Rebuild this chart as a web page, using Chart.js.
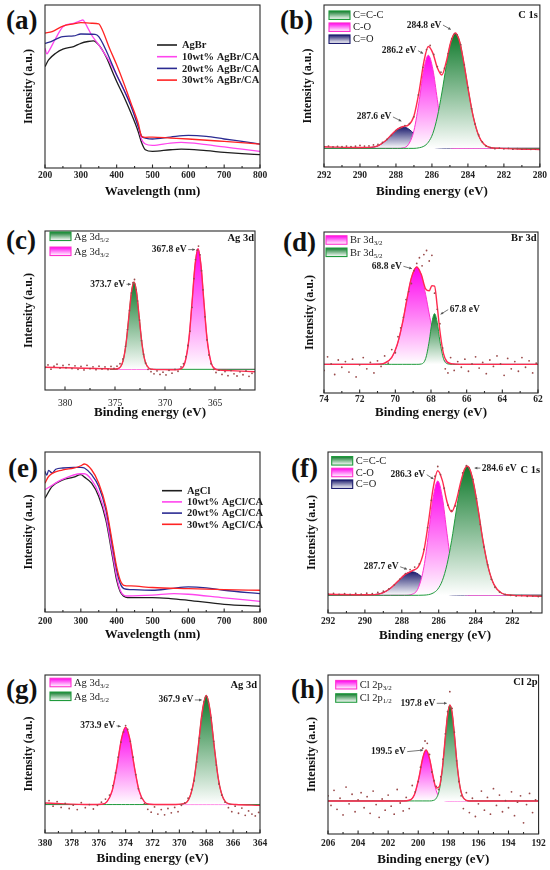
<!DOCTYPE html>
<html lang="en">
<head>
<meta charset="UTF-8">
<title>AgBr/CA and AgCl/CA: UV-vis and XPS</title>
<script src="https://cdn.jsdelivr.net/npm/chart.js"></script>
<style>
  body { margin: 0; background: #fff; }
  #page { position: relative; width: 550px; height: 870px; overflow: hidden; background: #fff; }
  #page canvas { position: absolute; }
  .tag { position: absolute; font: bold 27px 'Liberation Serif', serif; color: #111; line-height: 1; }
</style>
</head>
<body>
<div id="page">
  <div class="tag" style="left:6px;top:7px">(a)</div>
  <div class="tag" style="left:280px;top:7px">(b)</div>
  <div class="tag" style="left:6px;top:227px">(c)</div>
  <div class="tag" style="left:283px;top:229px">(d)</div>
  <div class="tag" style="left:8px;top:455px">(e)</div>
  <div class="tag" style="left:291px;top:455px">(f)</div>
  <div class="tag" style="left:6px;top:676px">(g)</div>
  <div class="tag" style="left:291px;top:676px">(h)</div>
</div>
<script>
const SERIF = "'Liberation Serif', 'Times New Roman', serif";

// ---------- (a) UV-vis, AgBr series ----------
const aNames = ['AgBr', '10wt% AgBr/CA', '20wt% AgBr/CA', '30wt% AgBr/CA'];
const aWl0 = [200,210,230,250,280,300,320,335,350,370,390,400,420,440,460,470,480,500,550,580,650,700,750,800];
const aInt0 = [62.2,66.3,70.4,72.9,74.5,76.5,77.6,78.0,75.5,68.4,58.2,53.1,43.9,33.7,22.4,15.3,11.2,10.2,11.2,11.6,10.6,9.6,8.8,8.2];
const aWl1 = [200,205,210,230,250,280,300,305,320,330,350,380,400,420,440,460,470,480,500,550,580,650,700,750,800];
const aInt1 = [73.5,70.0,71.4,79.6,86.7,88.8,90.4,90.8,85.7,81.6,75.5,65.3,57.1,48.0,38.8,25.5,17.3,14.7,13.9,15.3,15.7,14.3,12.9,11.6,10.2];
const aWl2 = [200,210,250,280,300,340,350,370,390,400,420,440,460,470,480,500,550,600,650,700,750,800];
const aInt2 = [76.5,77.0,80.6,81.0,82.2,82.0,80.6,72.4,62.2,57.1,48.0,37.8,25.5,19.4,18.4,17.8,19.0,20.0,19.4,17.8,16.3,14.7];
const aWl3 = [200,220,250,280,300,330,350,360,380,400,420,440,460,470,480,500,550,600,700,800];
const aInt3 = [82.7,83.7,87.1,88.4,89.2,88.8,88.4,84.7,73.5,63.3,52.0,39.8,27.6,19.4,18.8,19.0,18.4,17.8,16.3,14.7];

// ---------- (e) UV-vis, AgCl series ----------
const eNames = ['AgCl', '10wt% AgCl/CA', '20wt% AgCl/CA', '30wt% AgCl/CA'];
const eWl0 = [200,220,250,280,300,310,330,350,370,390,400,410,420,430,500,550,600,700,800];
const eInt0 = [71.1,78.5,82.6,84.3,85.8,84.3,80.5,72.2,57.5,32.4,19.9,12.6,9.8,9.0,9.0,8.4,7.3,4.8,3.6];
const eWl1 = [200,250,300,310,330,350,370,390,400,410,420,430,500,560,600,700,800];
const eInt1 = [76.4,83.0,86.4,86.4,82.6,74.3,59.6,34.5,22.0,13.6,10.5,10.0,10.5,11.5,11.1,8.8,6.7];
const eWl2 = [200,205,210,220,230,250,280,300,310,330,350,370,390,400,410,420,440,500,550,600,650,700,800];
const eInt2 = [87.9,85.5,88.5,86.8,89.2,90.0,90.4,90.4,90.0,85.8,78.5,63.8,38.7,26.2,17.8,14.6,14.0,13.6,14.6,15.7,15.1,13.6,11.5];
const eWl3 = [200,210,250,280,300,310,330,350,370,390,400,410,420,440,500,600,700,800];
const eInt3 = [80.5,84.7,88.9,89.9,91.4,92.5,88.9,80.5,65.9,40.8,28.2,19.9,16.7,16.3,15.3,14.6,14.0,13.6];

const uvTicks = [200, 300, 400, 500, 600, 700, 800];

// ---------- (b) C 1s, AgBr/CA ----------
const bBase = 11.5;
const bE = [292,290,289.5,289,288.6,288.2,287.9,287.6,287.3,287.0,286.7,286.45,286.2,285.95,285.7,285.45,285.2,284.95,284.7,284.45,284.2,283.95,283.7,283.4,283.1,282.7,282.2,281,280];
const bCCC = [11.5,11.5,11.5,11.5,11.5,11.5,11.5,11.5,11.5,11.5,11.9,12.8,15.3,20.7,30.9,45.7,62.6,77.0,82.5,77.0,62.6,45.7,30.9,19.3,14.0,11.9,11.5,11.5,11.5];
const bCO = [11.5,11.5,11.5,11.5,11.5,11.5,11.5,11.8,14.0,22.5,41.6,60.4,69.0,60.4,41.6,22.5,14.0,11.8,11.5,11.5,11.5,11.5,11.5,11.5,11.5,11.5,11.5,11.5,11.5];
const bCdO = [11.5,11.5,11.8,13.1,16.0,20.5,23.5,24.7,23.5,20.5,17.0,14.7,13.1,12.2,11.8,11.6,11.5,11.5,11.5,11.5,11.5,11.5,11.5,11.5,11.5,11.5,11.5,11.5,11.5];
const bFit = [12.5,12.0,12.1,13.1,16.0,20.5,23.5,25.0,26.0,31.5,47.5,64.9,74.4,70.3,61.3,56.8,65.1,77.3,82.7,77.0,62.6,45.7,30.9,19.3,14.0,11.9,11.5,11.0,10.8];
const bDots = [[292,12.6],[291.75,12.9],[291.5,12.4],[291.25,12.7],[291,12.5],[290.75,12.9],[290.5,12.6],[290.25,12.8],[290,13.3],[289.75,12.9],[289.5,13.0],[289.25,13.6],[289,14.0],[288.75,15.2],[288.5,17.0],[288.25,19.5],[288,22.4],[287.75,24.3],[287.5,25.6],[287.25,26.8],[287,31.0],[286.75,44.5],[286.5,61.5],[286.3,72.5],[286.1,75.0],[285.9,69.5],[285.7,62.0],[285.5,58.5],[285.3,61.0],[285.1,70.0],[284.9,79.0],[284.75,82.0],[284.6,81.5],[284.4,75.5],[284.2,63.0],[284,49.0],[283.8,36.0],[283.6,26.5],[283.4,19.8],[283.2,15.5],[283,13.0],[282.75,12.0],[282.5,11.3],[282.25,11.6],[282,11.2],[281.75,11.5],[281.5,11.0],[281.25,11.3],[281,11.0],[280.75,11.2],[280.5,10.9],[280.25,11.1],[280,10.9]];
const bTicks = [292, 290, 288, 286, 284, 282, 280];
const bNotes = [['287.6 eV', 288.25, 30.9, 287.7, 28.3], ['286.2 eV', 286.86, 71.8, 286.49, 70.1], ['284.8 eV', 285.47, 87.6, 284.95, 84.9]];

// ---------- (c) Ag 3d, AgBr/CA ----------
const cBase = 13;
const cE = [375.5,375,374.6,374.2,373.9,373.6,373.35,373.1,372.85,372.6,372.3,372.0,371.6,371.2,370,369,368.4,368.0,367.6,367.3,367.0,366.7,366.4,366.1,365.8,365.4,365.0,364.6,363.5,361];
const cAg52 = [13,13,13.7,18.3,29,47,61.8,68,61.8,47,29,18.3,13.7,13,13,13,13,13,13,13,13,13,13,13,13,13,13,13,13,13];
const cAg32 = [13,13,13,13,13,13,13,13,13,13,13,13,13,13,13,13,13.6,17.7,32.8,55,78.5,89,78.5,55,32.8,17.7,13.6,13,13,13];
const cFitE = [382,376,375.5,375,374.6,374.2,373.9,373.6,373.35,373.1,372.85,372.6,372.3,372.0,371.6,371.2,370,369,368.4,368.0,367.6,367.3,367.0,366.7,366.4,366.1,365.8,365.4,365.0,364.6,363.5,361];
const cFit = [14.3,13.4,13.3,13.2,13.7,18.3,29,47,61.8,68,61.8,47,29,18.3,13.7,13,12.8,12.7,13.3,17.4,32.5,54.7,78.2,88.7,78.2,54.7,32.5,17.4,13.2,12.5,12.2,11.5];
const cDots = [[382,14.2],[381.7,15.8],[381.4,13.1],[381.1,15.0],[380.8,16.2],[380.5,13.8],[380.2,15.4],[379.9,14.0],[379.6,16.0],[379.3,13.5],[379.0,15.2],[378.7,13.0],[378.4,14.8],[378.1,12.6],[377.8,15.5],[377.5,13.4],[377.2,14.6],[376.9,12.8],[376.6,15.0],[376.3,13.2],[376.0,14.5],[375.7,12.9],[375.4,14.8],[375.1,13.6],[374.8,15.0],[374.5,16.5],[374.2,19.5],[373.95,27.5],[373.75,38.0],[373.55,50.0],[373.35,61.0],[373.2,67.5],[373.05,69.5],[372.9,63.0],[372.75,56.0],[372.55,44.0],[372.35,31.0],[372.15,22.5],[371.95,17.0],[371.7,13.0],[371.4,11.5],[371.1,10.2],[370.8,12.0],[370.5,9.8],[370.2,11.2],[369.9,9.5],[369.6,12.4],[369.3,10.6],[369.0,13.0],[368.7,11.8],[368.4,14.5],[368.15,16.5],[367.9,21.0],[367.7,28.0],[367.5,37.0],[367.3,52.0],[367.1,70.0],[366.95,82.0],[366.8,88.0],[366.65,90.5],[366.5,85.0],[366.35,75.0],[366.2,63.0],[366.0,46.0],[365.8,31.5],[365.6,22.0],[365.4,16.5],[365.15,13.0],[364.9,11.0],[364.6,12.5],[364.3,9.8],[364.0,11.6],[363.7,9.0],[363.4,12.2],[363.1,10.2],[362.8,8.8],[362.5,11.4],[362.2,9.6],[361.9,12.0],[361.6,8.6],[361.3,10.5]];
const cTicks = [380, 375, 370, 365];
const cNotes = [['373.7 eV', 374.0, 66.5, 373.43, 66.5], ['367.8 eV', 367.83, 88.3, 367.0, 88.3]];

// ---------- (d) Br 3d, AgBr/CA ----------
const dBase = 17.8;
const dE = [74,71.5,71,70.6,70.2,69.9,69.6,69.35,69.1,68.8,68.55,68.3,68.1,67.95,67.8,67.65,67.5,67.3,67.1,66.8,66.4,66,62];
const dBr32 = [17.8,17.8,17.9,18.6,22.1,29.8,43.4,58.2,71.5,78.3,73.5,61.1,49.1,40.8,34.9,27.9,24.1,20.8,19.0,18.1,17.8,17.8,17.8];
const dBr52 = [17.8,17.8,17.8,17.8,17.8,17.8,17.8,17.8,17.8,17.8,18.0,21.4,32.2,43.7,49.3,43.7,32.2,21.4,18.2,17.8,17.8,17.8,17.8];
const dFit = [17.8,17.8,17.9,18.6,22.1,29.8,43.4,58.2,71.5,78.3,73.7,64.7,63.5,66.7,66.4,53.8,38.5,24.4,19.4,18.1,17.8,17.8,17.8];
const dDots = [[74,14.0],[73.8,22.5],[73.6,18.0],[73.4,11.5],[73.2,20.5],[73.0,16.0],[72.8,19.5],[72.6,13.0],[72.4,21.0],[72.2,10.0],[72.0,17.5],[71.8,22.0],[71.6,15.0],[71.4,19.0],[71.2,12.5],[71.0,20.0],[70.8,16.5],[70.6,23.0],[70.4,18.5],[70.2,27.0],[70.0,25.0],[69.85,35.0],[69.7,40.5],[69.55,47.0],[69.4,58.0],[69.25,63.0],[69.1,68.0],[68.95,76.0],[68.8,80.5],[68.65,84.0],[68.5,79.0],[68.4,86.0],[68.25,88.5],[68.1,82.0],[67.95,85.5],[67.8,62.0],[67.65,52.0],[67.5,43.0],[67.35,28.0],[67.2,15.0],[67.05,12.5],[66.9,22.0],[66.7,14.0],[66.5,19.5],[66.3,16.0],[66.1,21.0],[65.9,13.5],[65.7,18.0],[65.5,22.5],[65.3,15.5],[65.1,19.0],[64.9,12.0],[64.7,20.5],[64.5,16.5],[64.3,23.0],[64.1,18.0],[63.9,11.0],[63.7,21.5],[63.5,15.0],[63.3,19.5],[63.1,13.5],[62.9,22.0],[62.7,16.0],[62.5,20.0],[62.3,12.5],[62.1,18.5]];
const dTicks = [74, 72, 70, 68, 66, 64, 62];
const dNotes = [['68.8 eV', 69.63, 78.7, 69.07, 77.2], ['67.8 eV', 66.95, 51.8, 67.46, 48.9]];

// ---------- (f) C 1s, AgCl/CA ----------
const fBase = 11;
const fE = [292,290,289.5,289,288.6,288.2,287.85,287.45,287.1,286.8,286.55,286.3,286.05,285.8,285.55,285.3,285.05,284.8,284.6,284.45,284.3,284.1,283.85,283.6,283.3,283.0,282.6,282.1,281,280.4];
const fCCC = [11,11,11,11,11,11,11,11,11,11.1,11.4,12.4,14.8,20.2,30.1,44.9,63.4,80.1,88.9,91,88.9,80.1,63.4,44.9,27.7,17.6,12.4,11.1,11,11];
const fCO = [11,11,11,11,11,11,11,11.6,15.7,28.7,49.4,71.7,82,71.7,49.4,28.7,17,12.5,11.4,11.2,11,11,11,11,11,11,11,11,11,11];
const fCdO = [11,11,11.4,12.7,15.5,19.9,23.7,25.6,24.1,21.0,18.1,15.5,13.6,12.3,11.6,11.2,11.1,11,11,11,11,11,11,11,11,11,11,11,11,11];
const fFit = [11.6,11.3,11.4,12.7,15.5,19.9,23.7,26.2,28.8,38.8,56.9,77.6,88.4,82.2,69.1,62.8,69.5,81.6,89.3,91.2,88.9,80.1,63.4,44.9,27.7,17.6,12.4,11.1,10.6,10.3];
const fDots = [[292,11.8],[291.7,12.2],[291.4,11.6],[291.1,12.0],[290.8,11.5],[290.5,12.1],[290.2,11.7],[289.9,12.3],[289.6,12.0],[289.3,12.8],[289.0,13.5],[288.7,15.0],[288.4,17.5],[288.1,21.0],[287.8,24.5],[287.55,27.0],[287.3,28.5],[287.05,30.5],[286.8,39.5],[286.6,53.0],[286.4,70.0],[286.2,85.0],[286.05,91.0],[285.9,86.0],[285.7,77.5],[285.5,67.0],[285.3,63.5],[285.1,66.5],[284.9,76.0],[284.7,87.0],[284.5,91.5],[284.35,90.0],[284.15,83.0],[283.95,71.0],[283.75,55.0],[283.55,41.0],[283.35,30.0],[283.15,21.0],[282.95,16.0],[282.7,13.0],[282.4,11.5],[282.1,11.0],[281.8,10.6],[281.5,10.8],[281.2,10.4],[280.9,10.6],[280.6,10.2]];
const fTicks = [292, 290, 288, 286, 284, 282];
const fNotes = [['286.3 eV', 286.73, 85.9, 286.28, 83.2], ['284.6 eV', 283.66, 90.0, 284.05, 90.0], ['287.7 eV', 288.17, 28.7, 287.72, 27.2]];

// ---------- (g) Ag 3d, AgCl/CA ----------
const gBase = 18;
const gE = [380,376.5,375.8,375.4,375.0,374.65,374.3,374.0,373.7,373.35,373.0,372.6,372.2,371.5,370.3,369.6,369.2,368.9,368.6,368.3,368.0,367.7,367.4,367.1,366.8,366.4,365.8,364];
const gAg32 = [18,18,18.2,19.7,26.8,41.9,59.9,67,59.9,41.9,26.8,19.7,18.2,18,18,18,18,18,18,18,18,18,18,18,18,18,18,18];
const gAg52 = [18,18,18,18,18,18,18,18,18,18,18,18,18,18,18,18.7,23.4,34.3,54.4,76.7,87,76.7,54.4,34.3,23.4,18.7,18,18];
const gFit = [19,18,18.2,19.7,26.8,41.9,59.9,67,59.9,41.9,26.8,19.7,18.2,18,18,18.7,23.4,34.3,54.4,76.7,87,76.7,54.4,34.3,23.4,18.7,18,17.5];
const gDots = [[380,18.5],[379.7,20.5],[379.4,17.0],[379.1,19.8],[378.8,16.2],[378.5,18.8],[378.2,15.5],[377.9,17.6],[377.6,14.8],[377.3,19.2],[377.0,16.0],[376.7,18.0],[376.4,15.2],[376.1,17.5],[375.8,19.5],[375.5,21.5],[375.2,24.0],[374.95,30.0],[374.75,38.0],[374.55,48.0],[374.35,57.5],[374.15,64.0],[374.0,68.0],[373.85,65.5],[373.65,58.0],[373.45,48.0],[373.25,37.0],[373.05,28.0],[372.85,22.0],[372.6,18.5],[372.35,15.0],[372.1,13.2],[371.85,16.5],[371.6,12.0],[371.35,14.8],[371.1,11.5],[370.85,15.5],[370.6,12.8],[370.35,16.2],[370.1,13.5],[369.85,17.5],[369.6,19.0],[369.35,22.0],[369.1,27.5],[368.9,33.0],[368.7,45.0],[368.5,60.0],[368.3,74.0],[368.15,83.0],[368.0,86.5],[367.85,83.0],[367.65,73.0],[367.45,58.0],[367.25,43.0],[367.05,31.0],[366.85,24.0],[366.6,19.5],[366.35,16.0],[366.1,13.5],[365.85,17.0],[365.6,12.5],[365.35,15.8],[365.1,11.2],[364.85,14.0],[364.6,12.0],[364.35,10.8],[364.1,13.0]];
const gTicks = [380, 378, 376, 374, 372, 370, 368, 366, 364];
const gNotes = [['373.9 eV', 374.79, 67.8, 374.37, 67.4], ['367.9 eV', 368.96, 84.2, 368.34, 84.2]];

// ---------- (h) Cl 2p, AgCl/CA ----------
const hBase = 20.8;
const hE = [206,201.5,201.0,200.6,200.25,199.95,199.7,199.48,199.25,199.0,198.8,198.6,198.4,198.2,198.05,197.9,197.75,197.6,197.4,197.2,196.95,196.6,196,192];
const hCl32 = [20.8,20.8,20.8,21.2,24.9,35.6,47.8,52.8,47.4,35.3,27.2,23.0,21.4,20.9,20.8,20.8,20.8,20.8,20.8,20.8,20.8,20.8,20.8,20.8];
const hCl12 = [20.8,20.8,20.8,20.8,20.8,20.8,20.8,20.8,20.8,21.1,22.5,27.6,40.4,60.7,74.8,81.1,76.3,62.8,42.2,28.5,22.1,20.8,20.8,20.8];
const hFit = [20.8,20.8,20.8,21.2,24.9,35.6,47.8,52.8,47.4,35.6,28.9,29.8,41.0,60.8,74.8,81.1,76.3,62.8,42.2,28.5,22.1,20.8,20.8,20.8];
const hDots = [[206,24.0],[205.8,18.0],[205.6,27.5],[205.4,15.5],[205.2,22.5],[205.0,12.0],[204.8,29.5],[204.6,19.0],[204.4,25.0],[204.2,14.0],[204.0,21.5],[203.8,26.0],[203.6,16.5],[203.4,23.5],[203.2,13.0],[203.0,27.0],[202.8,18.5],[202.6,10.5],[202.4,22.0],[202.2,15.0],[202.0,24.5],[201.8,17.5],[201.6,12.5],[201.4,28.0],[201.2,19.5],[201.0,14.5],[200.8,23.0],[200.6,16.0],[200.4,30.5],[200.2,26.5],[200.0,33.0],[199.85,42.0],[199.7,54.0],[199.55,58.5],[199.4,57.0],[199.25,50.0],[199.1,39.0],[198.95,33.5],[198.8,30.0],[198.65,28.0],[198.5,36.0],[198.35,47.0],[198.2,63.0],[198.05,77.0],[197.9,89.5],[197.75,79.0],[197.6,64.0],[197.45,46.0],[197.3,33.0],[197.15,24.0],[197.0,16.0],[196.8,26.0],[196.6,13.5],[196.4,22.5],[196.2,11.0],[196.0,19.0],[195.8,27.0],[195.6,15.0],[195.4,23.0],[195.2,12.5],[195.0,28.5],[194.8,18.0],[194.6,24.5],[194.4,14.0],[194.2,21.0],[194.0,16.5],[193.8,26.5],[193.6,11.5],[193.4,20.0],[193.2,24.0],[193.0,7.0],[192.8,18.5],[192.6,25.5],[192.4,13.5],[192.2,21.5]];
const hTicks = [206, 204, 202, 200, 198, 196, 194, 192];
const hNotes = [['199.5 eV', 200.83, 51.8, 199.68, 52.8], ['197.8 eV', 198.87, 82.2, 198.11, 82.2]];

// ---------- colours ----------
const UV_COLORS = ['#1e1e1e', '#ff45ee', '#2b2b92', '#ff2424'];
const GREEN = { line: '#1f9a3c', fill: '#0f7a2b' };
const PINK = { line: '#ff30d0', fill: '#ff00ee' };
const NAVY = { line: '#1c1c6e', fill: '#1c1c6e' };
const FIT_RED = '#ff2b4e';
const DOT = '#9a4a4a';

const page = document.getElementById('page');
const pts = (xs, ys) => xs.map((x, i) => ({ x, y: ys[i] }));

function fillGrad(chart, arr, base, color) {
  const area = chart.chartArea;
  if (!area) return color;
  const ys = chart.scales.y;
  const g = chart.ctx.createLinearGradient(0, ys.getPixelForValue(Math.max(...arr)), 0, ys.getPixelForValue(base));
  g.addColorStop(0, color);
  g.addColorStop(1, '#ffffff');
  return g;
}

function arrow(ctx, x1, y1, x2, y2) {
  ctx.strokeStyle = '#555'; ctx.fillStyle = '#555'; ctx.lineWidth = 0.8;
  ctx.beginPath(); ctx.moveTo(x1, y1); ctx.lineTo(x2, y2); ctx.stroke();
  const a = Math.atan2(y2 - y1, x2 - x1), h = 3;
  ctx.beginPath();
  ctx.moveTo(x2, y2);
  ctx.lineTo(x2 - h * Math.cos(a - 0.5), y2 - h * Math.sin(a - 0.5));
  ctx.lineTo(x2 - h * Math.cos(a + 0.5), y2 - h * Math.sin(a + 0.5));
  ctx.closePath(); ctx.fill();
}

// frame, inward ticks, legend, peak labels, corner label
function decor(p) {
  return {
    id: 'decor',
    afterDraw(chart) {
      const ctx = chart.ctx, a = chart.chartArea, xs = chart.scales.x, ys = chart.scales.y;
      ctx.save();
      ctx.strokeStyle = '#2a2a2a'; ctx.lineWidth = 1.1;
      ctx.strokeRect(a.left, a.top, a.right - a.left, a.bottom - a.top);
      ctx.beginPath();
      xs.ticks.forEach(t => {
        const px = xs.getPixelForValue(t.value);
        ctx.moveTo(px, a.bottom); ctx.lineTo(px, a.bottom - 3.5);
      });
      for (let v = Math.ceil(xs.min / p.minor) * p.minor; v <= xs.max + 1e-9; v += p.minor) {
        const px = xs.getPixelForValue(v);
        ctx.moveTo(px, a.bottom); ctx.lineTo(px, a.bottom - 2);
      }
      ctx.stroke();

      // legend
      ctx.textBaseline = 'middle'; ctx.textAlign = 'left';
      p.legend.items.forEach((it, i) => {
        const x = a.left + p.legend.x, y = a.top + p.legend.y + i * p.legend.dy;
        if (p.kind === 'uv') {
          ctx.strokeStyle = it.color; ctx.lineWidth = 1.6;
          ctx.beginPath(); ctx.moveTo(x, y); ctx.lineTo(x + 20, y); ctx.stroke();
          ctx.fillStyle = '#1a1a1a'; ctx.font = `bold 10.5px ${SERIF}`;
          ctx.fillText(it.text, x + 25, y + 0.5);
        } else {
          const w = 21, h = 8.5;
          const g = ctx.createLinearGradient(0, y - h / 2, 0, y + h / 2);
          g.addColorStop(0, it.color.fill); g.addColorStop(1, '#ffffff');
          ctx.fillStyle = g; ctx.fillRect(x, y - h / 2, w, h);
          ctx.strokeStyle = it.color.line; ctx.lineWidth = 1.1; ctx.strokeRect(x, y - h / 2, w, h);
          ctx.fillStyle = '#222'; ctx.font = `10.5px ${SERIF}`;
          ctx.fillText(it.text, x + w + 3, y + 0.5);
          if (it.sub) {
            const tw = ctx.measureText(it.text).width;
            ctx.font = `7px ${SERIF}`;
            ctx.fillText(it.sub, x + w + 3 + tw, y + 3.5);
          }
        }
      });

      // peak labels with small arrows
      (p.notes || []).forEach(([txt, tx, ty, ax, ay]) => {
        const px = xs.getPixelForValue(tx), py = ys.getPixelForValue(ty);
        const qx = xs.getPixelForValue(ax), qy = ys.getPixelForValue(ay);
        const toLeft = qx < px;
        ctx.font = `bold 9.5px ${SERIF}`; ctx.fillStyle = '#1a1a1a';
        ctx.textAlign = toLeft ? 'left' : 'right';
        ctx.fillText(txt, px, py);
        arrow(ctx, px + (toLeft ? -1.5 : 1.5), py, qx, qy);
      });

      if (p.corner) {
        ctx.font = `bold 10.5px ${SERIF}`; ctx.fillStyle = '#111';
        ctx.textAlign = 'right';
        ctx.fillText(p.corner.text, a.right - p.corner.inset, a.top + p.corner.dy);
      }
      ctx.restore();
    }
  };
}

function mount(p, datasets) {
  const H = p.B - p.cy + 45;
  const cv = document.createElement('canvas');
  cv.width = 275; cv.height = H;
  cv.style.left = p.cx + 'px'; cv.style.top = p.cy + 'px';
  cv.style.width = '275px'; cv.style.height = H + 'px';
  page.appendChild(cv);
  const tickSize = 9.5;
  new Chart(cv, {
    type: 'line',
    data: { datasets },
    options: {
      responsive: false,
      animation: false,
      events: [],
      layout: { padding: { left: 0, right: p.cx + 275 - p.R, top: p.T - p.cy, bottom: 0 } },
      plugins: { legend: { display: false }, tooltip: { enabled: false } },
      scales: {
        x: {
          type: 'linear', min: p.min, max: p.max, reverse: !!p.reverse,
          afterFit: s => { s.height = 45; },
          afterBuildTicks: s => { s.ticks = p.ticks.map(v => ({ value: v })); },
          grid: { display: false, drawTicks: false },
          border: { display: false },
          ticks: {
            autoSkip: false, maxRotation: 0, color: '#222',
            padding: p.lab - 0.6 * tickSize,
            font: { family: SERIF, size: tickSize, weight: p.tickWeight || 'bold' }
          },
          title: {
            display: true, text: p.xTitle, color: '#111',
            font: { family: SERIF, size: 13, weight: 'bold' },
            padding: { top: 0, bottom: 45 - p.tit - 7.8 }
          }
        },
        y: {
          min: 0, max: 100,
          afterFit: s => { s.width = p.L - p.cx; },
          grid: { display: false, drawTicks: false },
          border: { display: false },
          ticks: { display: false },
          title: {
            display: true, text: 'Intensity (a.u.)', color: '#111',
            font: { family: SERIF, size: 12, weight: 'bold' },
            padding: { top: p.ytx - p.cx - 7.2, bottom: 0 }
          }
        }
      }
    },
    plugins: [decor(p)]
  });
}

function uvPanel(p, series) {
  p.kind = 'uv';
  p.min = 200; p.max = 800; p.ticks = uvTicks; p.minor = 50;
  p.xTitle = 'Wavelength (nm)';
  p.legend.items = series.map((s, i) => ({ text: s[2], color: UV_COLORS[i] }));
  const ds = series.map((s, i) => ({
    data: pts(s[0], s[1]), borderColor: UV_COLORS[i], borderWidth: 1.3,
    pointRadius: 0, cubicInterpolationMode: 'monotone', fill: false
  })).reverse();
  mount(p, ds);
}

// comps listed in legend order; p.stack = draw order, top first
function xpsPanel(p) {
  p.kind = 'xps'; p.reverse = true;
  p.xTitle = 'Binding energy (eV)';
  p.legend.items = p.comps.map(c => ({ text: c.text, sub: c.sub, color: c.color }));
  const ds = [
    { data: p.dots.map(d => ({ x: d[0], y: d[1] })), showLine: false, pointRadius: 0.9,
      pointBackgroundColor: DOT, pointBorderWidth: 0 },
    { data: pts(p.fitE, p.fit), borderColor: FIT_RED, borderWidth: 1.4, pointRadius: 0,
      cubicInterpolationMode: 'monotone', fill: false }
  ];
  p.stack.forEach(k => {
    const c = p.comps[k];
    ds.push({
      data: pts(p.E, c.arr), borderColor: c.color.line, borderWidth: 1, pointRadius: 0,
      cubicInterpolationMode: 'monotone', fill: { value: p.base },
      backgroundColor: ctx => fillGrad(ctx.chart, c.arr, p.base, c.color.fill)
    });
  });
  mount(p, ds);
}

uvPanel({ cx: 0, cy: 0, L: 45, R: 260, T: 5, B: 168, lab: 7.7, tit: 23.7, ytx: 29,
  legend: { x: 112, y: 40, dy: 11.7 } },
  [[aWl0, aInt0, aNames[0]], [aWl1, aInt1, aNames[1]], [aWl2, aInt2, aNames[2]], [aWl3, aInt3, aNames[3]]]);

xpsPanel({ cx: 275, cy: 0, L: 324, R: 540, T: 5, B: 167, lab: 8.7, tit: 24.7, ytx: 308,
  min: 280, max: 292, ticks: bTicks, minor: 1, base: bBase,
  E: bE, fitE: bE, fit: bFit, dots: bDots, notes: bNotes,
  comps: [{ arr: bCCC, color: GREEN, text: 'C=C-C' }, { arr: bCO, color: PINK, text: 'C-O' }, { arr: bCdO, color: NAVY, text: 'C=O' }],
  stack: [0, 1, 2],
  legend: { x: 5, y: 10.2, dy: 12 }, corner: { text: 'C 1s', inset: 2, dy: 10 } });

xpsPanel({ cx: 0, cy: 210, L: 45, R: 255, T: 231, B: 390, lab: 13.5, tit: 23, ytx: 29,
  min: 361, max: 382, ticks: cTicks, minor: 2.5, base: cBase, tickWeight: 'normal',
  E: cE, fitE: cFitE, fit: cFit, dots: cDots, notes: cNotes,
  comps: [{ arr: cAg52, color: GREEN, text: 'Ag 3d', sub: '5/2' }, { arr: cAg32, color: PINK, text: 'Ag 3d', sub: '3/2' }],
  stack: [0, 1],
  legend: { x: 5, y: 5.3, dy: 15 }, corner: { text: 'Ag 3d', inset: 1, dy: 7 } });

xpsPanel({ cx: 275, cy: 210, L: 324, R: 538, T: 232, B: 393, lab: 6.3, tit: 19.7, ytx: 310,
  min: 62, max: 74, ticks: dTicks, minor: 1, base: dBase,
  E: dE, fitE: dE, fit: dFit, dots: dDots, notes: dNotes,
  comps: [{ arr: dBr32, color: PINK, text: 'Br 3d', sub: '3/2' }, { arr: dBr52, color: GREEN, text: 'Br 3d', sub: '5/2' }],
  stack: [1, 0],
  legend: { x: 2, y: 8, dy: 12.3 }, corner: { text: 'Br 3d', inset: 1.5, dy: 6.3 } });

uvPanel({ cx: 0, cy: 420, L: 45, R: 260, T: 452, B: 612, lab: 9.7, tit: 23, ytx: 29,
  legend: { x: 117, y: 38.7, dy: 11.2 } },
  [[eWl0, eInt0, eNames[0]], [eWl1, eInt1, eNames[1]], [eWl2, eInt2, eNames[2]], [eWl3, eInt3, eNames[3]]]);

xpsPanel({ cx: 275, cy: 420, L: 328, R: 542, T: 452, B: 613, lab: 8.7, tit: 23, ytx: 312,
  min: 280.4, max: 292, ticks: fTicks, minor: 1, base: fBase,
  E: fE, fitE: fE, fit: fFit, dots: fDots, notes: fNotes,
  comps: [{ arr: fCCC, color: GREEN, text: 'C=C-C' }, { arr: fCO, color: PINK, text: 'C-O' }, { arr: fCdO, color: NAVY, text: 'C=O' }],
  stack: [0, 1, 2],
  legend: { x: 3.7, y: 8.8, dy: 11.7 }, corner: { text: 'C 1s', inset: 2, dy: 18 } });

xpsPanel({ cx: 0, cy: 640, L: 45, R: 260, T: 675, B: 833, lab: 11, tit: 25.3, ytx: 29,
  min: 364, max: 380, ticks: gTicks, minor: 1, base: gBase,
  E: gE, fitE: gE, fit: gFit, dots: gDots, notes: gNotes,
  comps: [{ arr: gAg32, color: PINK, text: 'Ag 3d', sub: '3/2' }, { arr: gAg52, color: GREEN, text: 'Ag 3d', sub: '5/2' }],
  stack: [1, 0],
  legend: { x: 5, y: 7.5, dy: 13.8 }, corner: { text: 'Ag 3d', inset: 3, dy: 10 } });

xpsPanel({ cx: 275, cy: 640, L: 328, R: 542, T: 675, B: 834, lab: 10, tit: 25.3, ytx: 312,
  min: 192, max: 206, ticks: hTicks, minor: 1, base: hBase,
  E: hE, fitE: hE, fit: hFit, dots: hDots, notes: hNotes,
  comps: [{ arr: hCl32, color: PINK, text: 'Cl 2p', sub: '3/2' }, { arr: hCl12, color: GREEN, text: 'Cl 2p', sub: '1/2' }],
  stack: [1, 0],
  legend: { x: 7.7, y: 9.7, dy: 13.3 }, corner: { text: 'Cl 2p', inset: 1, dy: 7.7 } });
</script>
</body>
</html>
